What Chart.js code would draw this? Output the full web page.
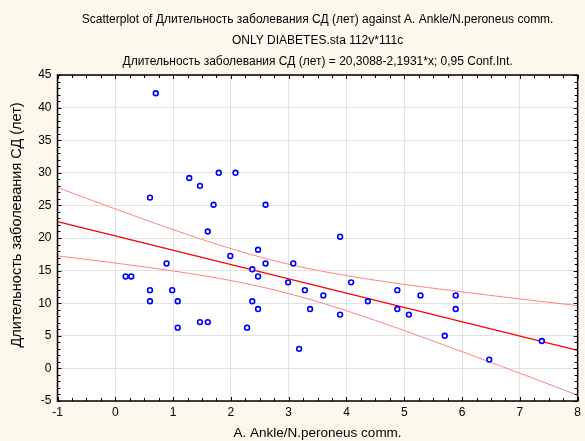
<!DOCTYPE html>
<html>
<head>
<meta charset="utf-8">
<script src="https://cdn.jsdelivr.net/npm/chart.js@4/dist/chart.umd.min.js"></script>
<style>
  html, body { margin: 0; padding: 0; background: #fdf8ec; overflow: hidden; }
  #wrap { width: 585px; height: 441px; }
  canvas { display: block; }
</style>
</head>
<body>
<div id="wrap"><canvas id="scatter" width="585" height="441"></canvas></div>
<script>
// values
const ankle = [0.7, 1.28, 1.465, 1.79, 2.08, 0.6, 1.7, 2.6, 1.6, 1.99, 2.47, 0.887, 2.6, 3.08, 2.37,
  0.178, 0.276, 2.47, 2.99, 0.6, 0.985, 3.28, 0.6, 1.08, 2.37, 2.47, 3.37, 1.465, 1.6, 1.08, 2.28, 3.18,
  3.89, 4.08, 3.6, 4.88, 5.28, 5.89, 4.37, 4.88, 5.08, 5.89, 3.89, 5.7, 6.47, 7.38];
const duration = [42.2, 29.2, 28, 30, 30, 26.2, 25.1, 25.1, 21, 17.25, 18.2, 16.1, 16.1, 16.1, 15.2,
  14.1, 14.1, 14.1, 13.2, 12, 12, 12, 10.3, 10.3, 10.3, 9.1, 9.1, 7.1, 7.1, 6.25, 6.25, 3,
  20.2, 13.2, 11.2, 12, 11.2, 11.2, 10.3, 9.1, 8.25, 9.1, 8.25, 5, 1.35, 4.2];

// fit from the chart title
const intercept = 20.3088;
const slope = -2.1931;
const tCrit = 2.0154; // 0.95, df = 44

const xRange = [-1, 8];
const yRange = [-5, 45];

const titleLines = [
  'Scatterplot of Длительность заболевания СД (лет) against A. Ankle/N.peroneus comm.',
  'ONLY DIABETES.sta 112v*111c',
  'Длительность заболевания СД (лет) = 20,3088-2,1931*x; 0,95 Conf.Int.'
];
const xTitle = 'A. Ankle/N.peroneus comm.';
const yTitle = 'Длительность заболевания СД (лет)';

const points = ankle.map((x, i) => ({ x: x, y: duration[i] }));

// confidence band of the fit
const n = ankle.length;
const xMean = ankle.reduce((a, b) => a + b, 0) / n;
const sxx = ankle.reduce((a, x) => a + (x - xMean) * (x - xMean), 0);
const sse = ankle.reduce((a, x, i) => {
  const r = duration[i] - (intercept + slope * x);
  return a + r * r;
}, 0);
const s = Math.sqrt(sse / (n - 2));

const fitLine = xRange.map(x => ({ x: x, y: intercept + slope * x }));
const upper = [];
const lower = [];
for (let k = 0; k <= 90; k++) {
  const x = xRange[0] + k * 0.1;
  const h = tCrit * s * Math.sqrt(1 / n + (x - xMean) * (x - xMean) / sxx);
  upper.push({ x: x, y: intercept + slope * x + h });
  lower.push({ x: x, y: intercept + slope * x - h });
}

const family = 'Arial, "Liberation Sans", sans-serif';
const font = { family: family, size: 12 };

// white plot area, black frame, inward ticks, y title
const frame = {
  id: 'frame',
  beforeDraw(chart) {
    const a = chart.chartArea, c = chart.ctx;
    c.save();
    c.fillStyle = '#fdf8ec';
    c.fillRect(0, 0, chart.width, chart.height);
    c.fillStyle = '#ffffff';
    c.fillRect(a.left, a.top, a.right - a.left, a.bottom - a.top);
    c.restore();
  },
  afterDraw(chart) {
    const a = chart.chartArea, c = chart.ctx;
    const xs = chart.scales.x, ys = chart.scales.y;
    c.save();
    c.strokeStyle = '#000000';
    c.lineWidth = 1;
    c.beginPath();
    for (let v = xRange[0]; v <= xRange[1] + 1e-9; v += 0.25) {
      const px = Math.round(xs.getPixelForValue(v)) + 0.5;
      const len = Math.abs(v - Math.round(v)) < 1e-9 ? 4 : 3;
      c.moveTo(px, a.bottom); c.lineTo(px, a.bottom - len);
      c.moveTo(px, a.top); c.lineTo(px, a.top + len);
    }
    for (let v = yRange[0]; v <= yRange[1]; v += 1) {
      const py = Math.round(ys.getPixelForValue(v)) + 0.5;
      const len = v % 5 === 0 ? 4 : 3;
      c.moveTo(a.left, py); c.lineTo(a.left + len, py);
      c.moveTo(a.right, py); c.lineTo(a.right - len, py);
    }
    c.stroke();
    c.lineWidth = 1.5;
    c.strokeRect(a.left, a.top, a.right - a.left, a.bottom - a.top);

    c.translate(17, 225);
    c.rotate(-Math.PI / 2);
    c.fillStyle = '#000000';
    c.font = '14.5px ' + family;
    c.textAlign = 'center';
    c.textBaseline = 'middle';
    c.fillText(yTitle, 0, 0);
    c.restore();
  }
};

new Chart(document.getElementById('scatter'), {
  type: 'scatter',
  data: {
    datasets: [
      {
        label: 'points',
        data: points,
        pointStyle: 'circle',
        pointRadius: 2.4,
        pointBorderWidth: 1.6,
        pointBorderColor: '#0000ff',
        pointBackgroundColor: '#ffffff',
        showLine: false
      },
      {
        label: 'fit',
        type: 'line',
        data: fitLine,
        borderColor: '#ff0000',
        borderWidth: 1.2,
        pointRadius: 0,
        fill: false
      },
      {
        label: 'upper',
        type: 'line',
        data: upper,
        borderColor: '#ff8080',
        borderWidth: 1,
        pointRadius: 0,
        fill: false
      },
      {
        label: 'lower',
        type: 'line',
        data: lower,
        borderColor: '#ff8080',
        borderWidth: 1,
        pointRadius: 0,
        fill: false
      }
    ]
  },
  options: {
    responsive: false,
    animation: false,
    layout: { autoPadding: false, padding: { left: 9, right: -1.3, top: 0, bottom: 0 } },
    plugins: {
      legend: { display: false },
      tooltip: { enabled: false },
      title: {
        display: true,
        fullSize: false,
        text: titleLines,
        color: '#000000',
        font: { family: family, size: 12, weight: 'normal', lineHeight: '21px' },
        padding: { top: 9, bottom: 3 }
      }
    },
    scales: {
      x: {
        type: 'linear',
        min: xRange[0],
        max: xRange[1],
        ticks: { stepSize: 1, color: '#000000', font: font, padding: 4 },
        grid: { color: '#e2e2e2', drawTicks: false },
        border: { display: false },
        title: {
          display: true,
          text: xTitle,
          color: '#000000',
          font: { family: family, size: 13.5 },
          padding: 0
        },
        afterFit(scale) {
          scale.height = 40;
        }
      },
      y: {
        type: 'linear',
        min: yRange[0],
        max: yRange[1],
        ticks: { stepSize: 5, color: '#000000', font: font, padding: 6 },
        grid: { color: '#e2e2e2', drawTicks: false },
        border: { display: false },
        title: { display: false },
        afterFit(scale) { scale.width = 48.5; }
      }
    }
  },
  plugins: [frame]
});
</script>
</body>
</html>
